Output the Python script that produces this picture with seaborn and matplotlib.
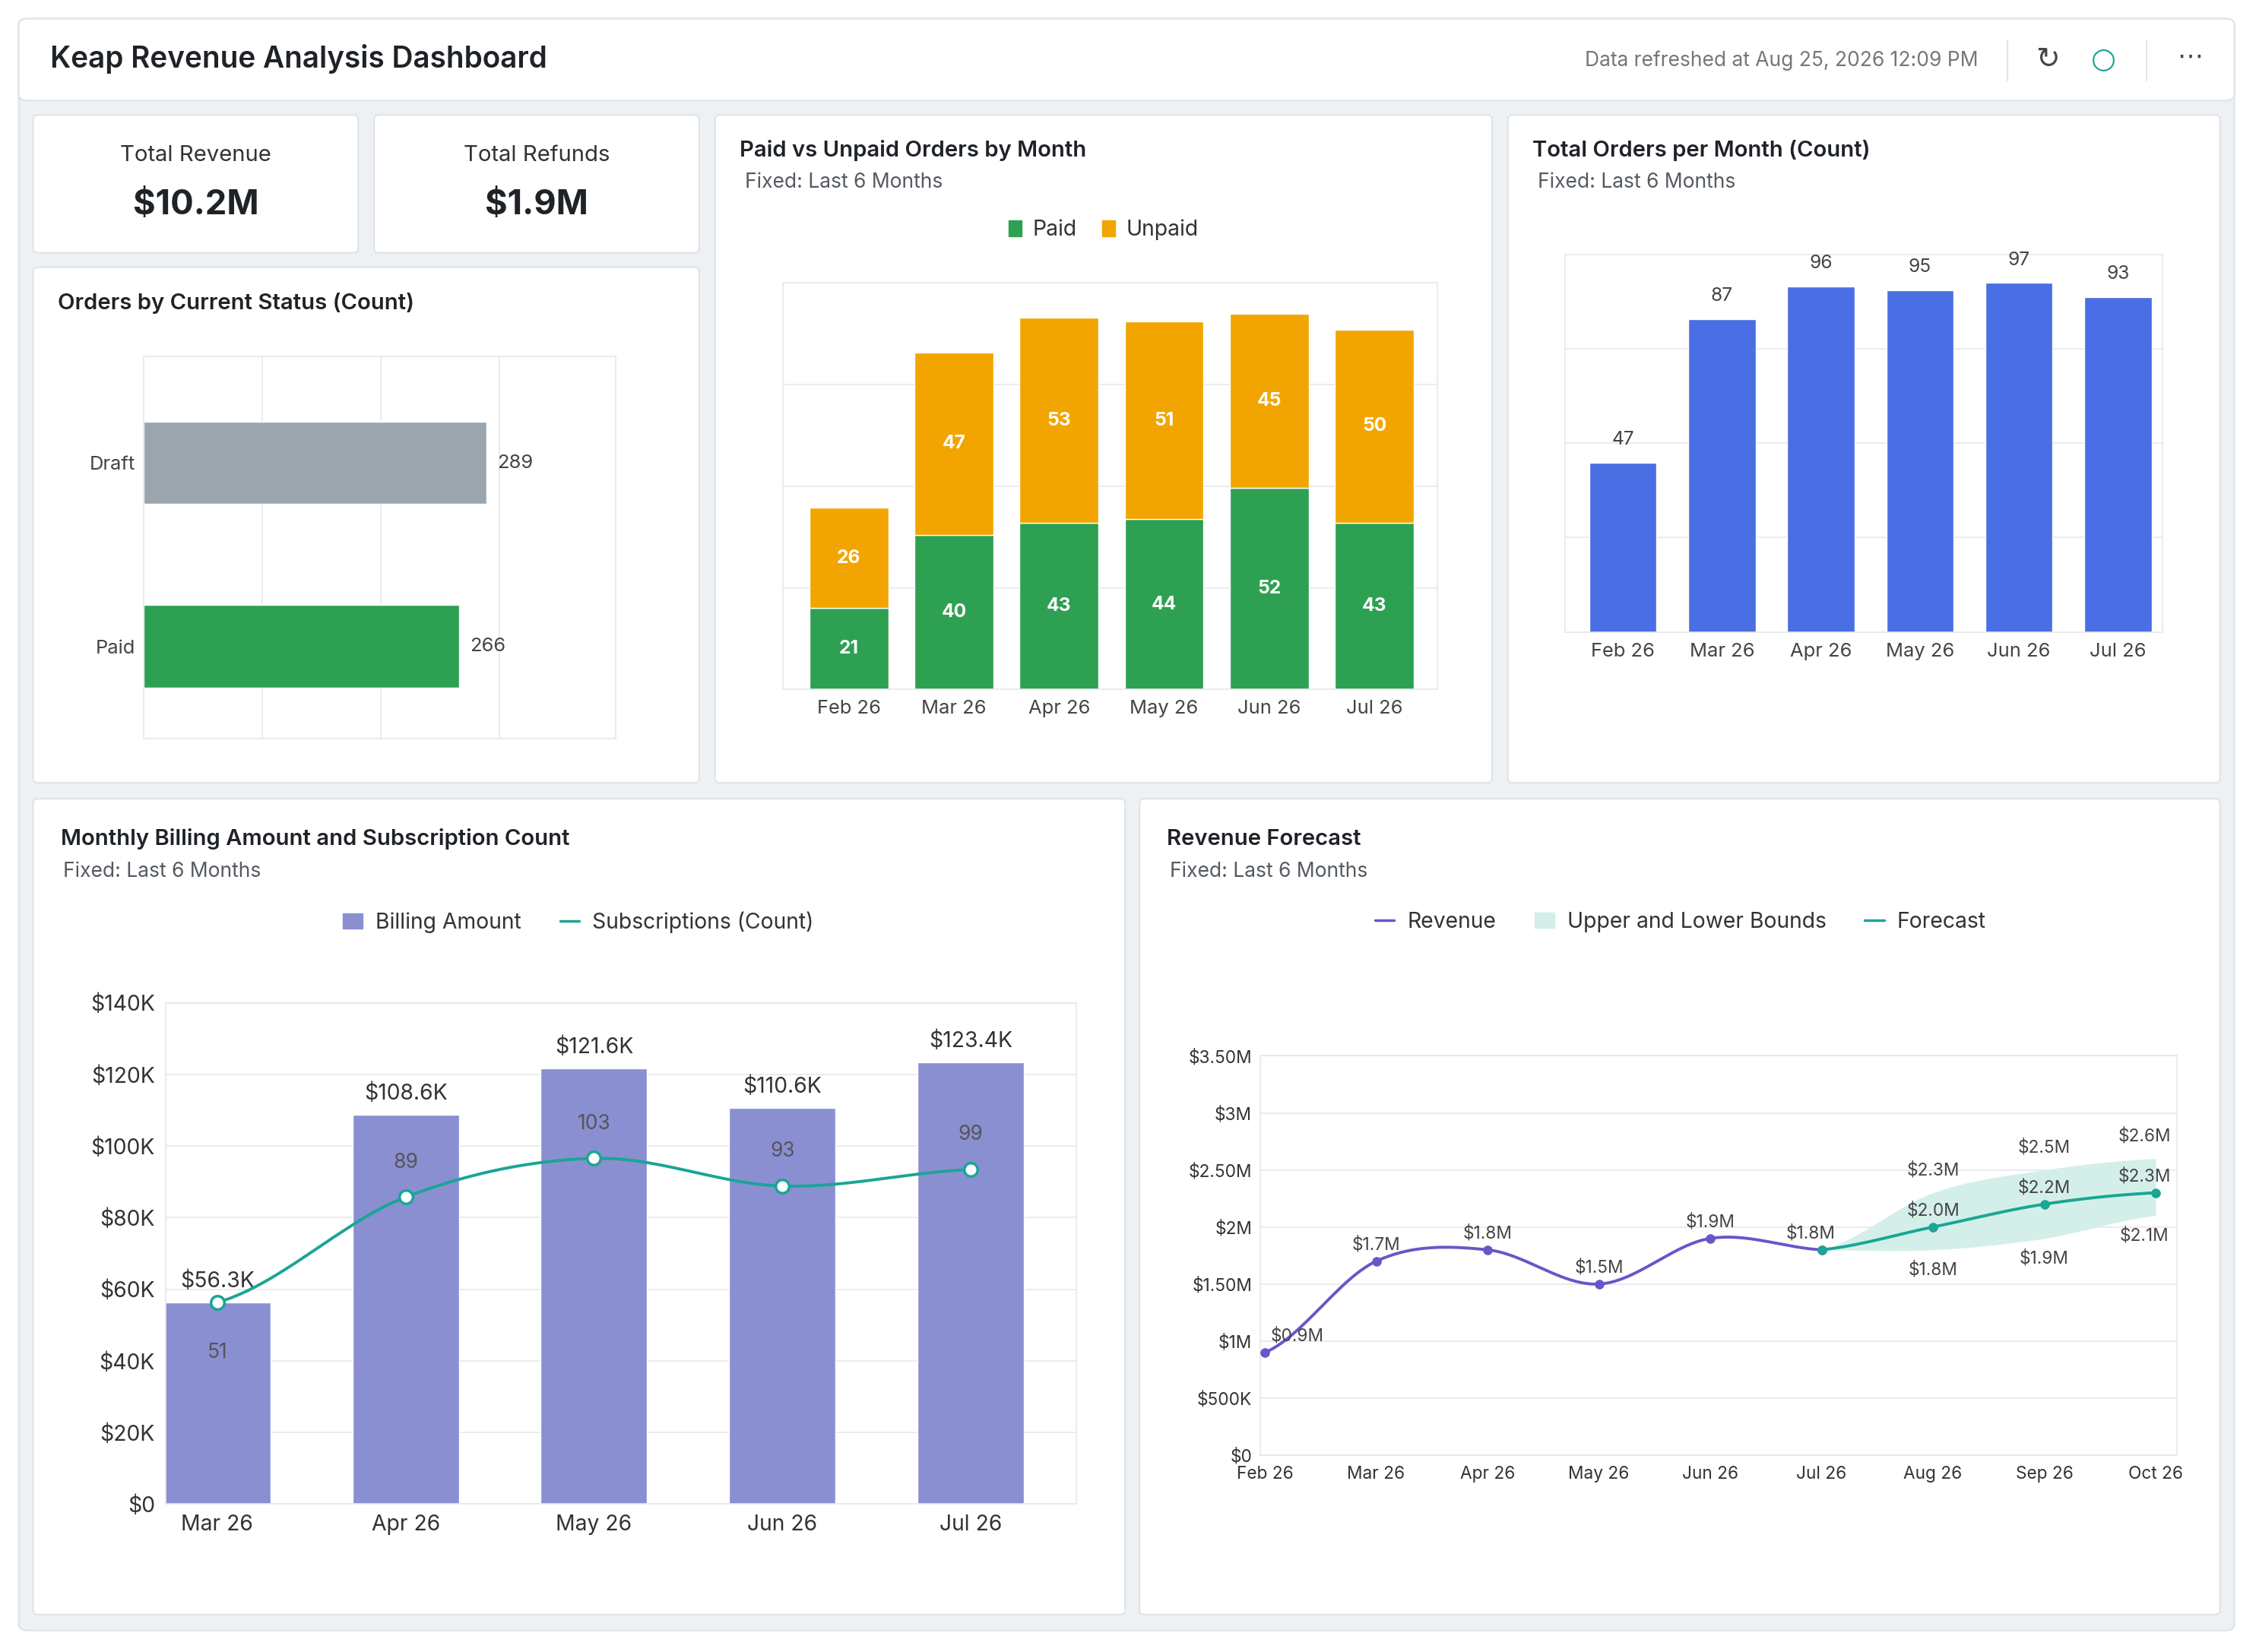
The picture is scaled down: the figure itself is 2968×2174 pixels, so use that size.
import numpy as np
import pandas as pd
import seaborn as sns
import matplotlib.pyplot as plt
from matplotlib.patches import FancyBboxPatch, Patch
from matplotlib.lines import Line2D
from matplotlib.ticker import FuncFormatter

sns.set_theme(style="white")
plt.rcParams['font.family'] = ['Inter', 'DejaVu Sans']

# ---- data ----
status_labels = ["Draft", "Paid"]
status_counts = [289, 266]

months6 = ["Feb 26", "Mar 26", "Apr 26", "May 26", "Jun 26", "Jul 26"]
paid = [21, 40, 43, 44, 52, 43]
unpaid = [26, 47, 53, 51, 45, 50]
total_orders = [47, 87, 96, 95, 97, 93]

bill_months = ["Mar 26", "Apr 26", "May 26", "Jun 26", "Jul 26"]
billing = [56300, 108600, 121600, 110600, 123400]
billing_labels = ["$56.3K", "$108.6K", "$121.6K", "$110.6K", "$123.4K"]
subs = [51, 89, 103, 93, 99]

fc_months = ["Feb 26", "Mar 26", "Apr 26", "May 26", "Jun 26", "Jul 26", "Aug 26", "Sep 26", "Oct 26"]
revenue = [0.9, 1.7, 1.8, 1.5, 1.9, 1.8]
forecast = [1.8, 2.0, 2.2, 2.3]
upper = [1.8, 2.3, 2.5, 2.6]
lower = [1.8, 1.8, 1.9, 2.1]

W, H = 1568.0, 1150.0
K = 1.36  # display px -> pt
fig = plt.figure(figsize=(29.68, 21.74), dpi=100)
fig.patch.set_facecolor("white")

GREEN, ORANGE, BLUE = "#2ea052", "#f2a500", "#4a6ee3"
PURPLE_BAR, TEAL, PURPLE = "#8a8fd2", "#1aa595", "#6a55c8"
TXT, SUB, GRID = "#1f2328", "#555b61", "#e6e8eb"


def R(x0, y0, x1, y1):
    return [x0 / W, 1 - y1 / H, (x1 - x0) / W, (y1 - y0) / H]


def card(x0, y0, x1, y1, fc="white", r=4, z=-5):
    fig.patches.append(FancyBboxPatch((x0 / W, 1 - y1 / H), (x1 - x0) / W, (y1 - y0) / H,
                                      boxstyle=f"round,pad=0,rounding_size={r / W}",
                                      transform=fig.transFigure, fc=fc, ec="#dfe3e7", lw=1.5, zorder=z))


def T(x, y, s, size, **kw):
    kw.setdefault("color", TXT)
    kw.setdefault("va", "center")
    fig.text(x / W, 1 - y / H, s, fontsize=size * K, **kw)


def smooth(xs, ys, n=30):
    # catmull-rom rendering of the line through the data points
    xs, ys = np.asarray(xs, float), np.asarray(ys, float)
    px = np.concatenate([[2 * xs[0] - xs[1]], xs, [2 * xs[-1] - xs[-2]]])
    py = np.concatenate([[ys[0]], ys, [ys[-1]]])
    ox, oy = [], []
    for i in range(1, len(px) - 2):
        t = np.linspace(0, 1, n)
        for arr, out in ((px, ox), (py, oy)):
            p0, p1, p2, p3 = arr[i - 1:i + 3]
            out.extend(0.5 * (2 * p1 + (-p0 + p2) * t + (2 * p0 - 5 * p1 + 4 * p2 - p3) * t ** 2
                              + (-p0 + 3 * p1 - 3 * p2 + p3) * t ** 3))
    return np.array(ox), np.array(oy)


def style(ax, grid_axis="y"):
    for s in ax.spines.values():
        s.set_color(GRID)
    ax.grid(True, axis=grid_axis, color=GRID, lw=1.2)
    ax.set_axisbelow(True)
    ax.tick_params(length=0, colors="#444", labelsize=13.5 * K)
    ax.set_xlabel("")
    ax.set_ylabel("")


# ---- background & header ----
card(13, 13, 1553, 1135, fc="#eef1f4", r=6, z=-10)
card(13, 13, 1553, 70, fc="white", r=6)
T(35, 41, "Keap Revenue Analysis Dashboard", 20.5, weight="semibold")
T(1375, 42, "Data refreshed at Aug 25, 2026 12:09 PM", 14, color="#777", ha="right")
T(1423, 42, "↻", 20, color="#444", ha="center", family="DejaVu Sans")
T(1462, 42, "○", 20, color=TEAL, ha="center", family="DejaVu Sans")
T(1522, 40, "⋯", 18, color="#444", ha="center", family="DejaVu Sans")
for xx in (1395, 1492):
    fig.add_artist(Line2D([xx / W, xx / W], [1 - 28 / H, 1 - 56 / H], color="#e2e5e8", lw=1.5))

# ---- KPI cards ----
card(23, 80, 249, 176)
card(260, 80, 486, 176)
T(136, 108, "Total Revenue", 15.5, ha="center", color="#333")
T(136, 143, "$10.2M", 24, ha="center", weight="bold")
T(373, 108, "Total Refunds", 15.5, ha="center", color="#333")
T(373, 143, "$1.9M", 24, ha="center", weight="bold")

# ---- Orders by status ----
card(23, 186, 486, 545)
T(40, 211, "Orders by Current Status (Count)", 15.5, weight="semibold")
ax = fig.add_axes(R(100, 248, 428, 514))
df = pd.DataFrame({"status": status_labels, "count": status_counts})
sns.barplot(data=df, y="status", x="count", hue="status", palette=["#9aa5ad", GREEN],
            width=0.45, ax=ax, legend=False, saturation=1)
ax.set_xlim(0, 398)
ax.set_ylim(1.5, -0.58)
ax.set_xticks([100, 200, 300])
ax.set_xticklabels([])
style(ax, "x")
ax.tick_params(axis="y", pad=8)
for i, v in enumerate(status_counts):
    ax.text(v + 9, i, str(v), va="center", fontsize=13.5 * K, color="#444")

# ---- Paid vs Unpaid ----
card(497, 80, 1037, 545)
T(514, 105, "Paid vs Unpaid Orders by Month", 15.5, weight="semibold")
T(518, 127, "Fixed: Last 6 Months", 14, color=SUB)
ax = fig.add_axes(R(544, 197, 999, 480))
dfp = pd.DataFrame({"month": months6, "Paid": paid, "Unpaid": unpaid})
sns.barplot(data=dfp, x="month", y="Paid", color=GREEN, width=0.75, ax=ax, saturation=1)
ax.bar(range(6), dfp["Unpaid"], bottom=dfp["Paid"], color=ORANGE, width=0.75)
ax.set_xlim(-0.63, 5.6)
ax.set_ylim(0, 105)
ax.set_yticks([26.25, 52.5, 78.75])
ax.set_yticklabels([])
style(ax)
ax.tick_params(axis="x", pad=10)
for i in range(6):
    ax.text(i, paid[i] / 2, str(paid[i]), ha="center", va="center", color="white", weight="bold", fontsize=13 * K)
    ax.text(i, paid[i] + unpaid[i] / 2, str(unpaid[i]), ha="center", va="center", color="white",
            weight="bold", fontsize=13 * K)
fig.legend([Patch(color=GREEN), Patch(color=ORANGE)], ["Paid", "Unpaid"], loc="center",
           bbox_to_anchor=(767 / W, 1 - 160 / H), ncol=2, frameon=False, fontsize=15 * K,
           handlelength=0.6, handleheight=0.8, columnspacing=1.2, handletextpad=0.5, labelcolor="#333")

# ---- Total orders ----
card(1048, 80, 1543, 545)
T(1065, 105, "Total Orders per Month (Count)", 15.5, weight="semibold")
T(1069, 127, "Fixed: Last 6 Months", 14, color=SUB)
ax = fig.add_axes(R(1088, 177, 1503, 440))
dft = pd.DataFrame({"month": months6, "orders": total_orders})
sns.barplot(data=dft, x="month", y="orders", color=BLUE, width=0.68, ax=ax, saturation=1)
ax.set_xlim(-0.58, 5.45)
ax.set_ylim(0, 105)
ax.set_yticks([26.25, 52.5, 78.75])
ax.set_yticklabels([])
style(ax)
ax.tick_params(axis="x", pad=10)
for i, v in enumerate(total_orders):
    ax.text(i, v + 4, str(v), ha="center", va="bottom", fontsize=13 * K, color="#444")

# ---- Monthly billing ----
card(23, 556, 782, 1124)
T(42, 584, "Monthly Billing Amount and Subscription Count", 15.5, weight="semibold")
T(44, 607, "Fixed: Last 6 Months", 14, color=SUB)
ax = fig.add_axes(R(115, 698, 748, 1047))
dfb = pd.DataFrame({"month": bill_months, "billing": billing, "subs": subs})
sns.barplot(data=dfb, x="month", y="billing", color=PURPLE_BAR, width=0.565, ax=ax, saturation=1)
ax.set_xlim(-0.275, 4.56)
ax.set_ylim(0, 140000)
ax.set_yticks(np.arange(0, 140001, 20000))
ax.yaxis.set_major_formatter(FuncFormatter(lambda v, p: f"${int(v / 1000)}K" if v else "$0"))
style(ax)
ax.tick_params(labelsize=15 * K, colors="#333")
ax.tick_params(axis="x", pad=10)
ax.tick_params(axis="y", pad=10)
for i, v in enumerate(billing):
    ax.text(i, v + 3000, billing_labels[i], ha="center", va="bottom", fontsize=15 * K, color="#333")
ax2 = ax.twinx()
sx, sy = smooth(range(5), subs)
ax2.plot(sx, sy, color=TEAL, lw=2.8)
sns.scatterplot(x=range(5), y=subs, ax=ax2, s=160, color="white", edgecolor=TEAL, linewidth=2.5, zorder=5)
ax2.set_ylim(-21.8, 159.2)
ax2.axis("off")
for i, v in enumerate(subs):
    dy = -18 if i == 0 else 9
    ax2.text(i, v + dy, str(v), ha="center", va="bottom" if dy > 0 else "center", fontsize=14 * K, color="#555")
fig.legend([Patch(color=PURPLE_BAR), Line2D([], [], color=TEAL, lw=2.5)], ["Billing Amount", "Subscriptions (Count)"],
           loc="center", bbox_to_anchor=(402 / W, 1 - 642 / H), ncol=2, frameon=False, fontsize=15 * K,
           handlelength=0.9, columnspacing=1.8, handletextpad=0.6, labelcolor="#333")

# ---- Revenue forecast ----
card(792, 556, 1543, 1124)
T(811, 584, "Revenue Forecast", 15.5, weight="semibold")
T(813, 607, "Fixed: Last 6 Months", 14, color=SUB)
ax = fig.add_axes(R(876, 735, 1513, 1013))
fx = np.arange(5, 9)
ux, uy = smooth(fx, upper)
lx, ly = smooth(fx, lower)
ax.fill_between(ux, ly, uy, color="#d4efe9", lw=0)
rx, ry = smooth(range(6), revenue)
ax.plot(rx, ry, color=PURPLE, lw=2.8)
sns.scatterplot(x=range(6), y=revenue, ax=ax, s=70, color=PURPLE, edgecolor=PURPLE, zorder=5)
gx, gy = smooth(fx, forecast)
ax.plot(gx, gy, color=TEAL, lw=2.8)
sns.scatterplot(x=fx, y=forecast, ax=ax, s=70, color=TEAL, edgecolor=TEAL, zorder=6)
ax.set_xlim(-0.04, 8.19)
ax.set_ylim(0, 3.5)
ax.set_xticks(range(9))
ax.set_xticklabels(fc_months)
ax.set_yticks(np.arange(0, 3.51, 0.5))
ylabs = ["$0", "$500K", "$1M", "$1.50M", "$2M", "$2.50M", "$3M", "$3.50M"]
ax.set_yticklabels(ylabs)
style(ax)
ax.tick_params(labelsize=12 * K, colors="#333")
ax.tick_params(axis="x", pad=10)
ax.tick_params(axis="y", pad=8)
for i, v in enumerate(revenue):
    if i == 0:
        ax.text(0.05, v + 0.07, f"${v:.1f}M", ha="left", va="bottom", fontsize=12 * K, color="#444")
    elif i == 5:
        ax.text(i - 0.1, v + 0.07, f"${v:.1f}M", ha="center", va="bottom", fontsize=12 * K, color="#444")
    else:
        ax.text(i, v + 0.07, f"${v:.1f}M", ha="center", va="bottom", fontsize=12 * K, color="#444")
for j in range(1, 4):
    i = fx[j]
    off = -0.1 if j == 3 else 0
    ax.text(i + off, forecast[j] + 0.07, f"${forecast[j]:.1f}M", ha="center", va="bottom", fontsize=12 * K, color="#444")
    ax.text(i + off, upper[j] + 0.12, f"${upper[j]:.1f}M", ha="center", va="bottom", fontsize=12 * K, color="#444")
    ax.text(i + off, lower[j] - 0.1, f"${lower[j]:.1f}M", ha="center", va="top", fontsize=12 * K, color="#444")
fig.legend([Line2D([], [], color=PURPLE, lw=2.5), Patch(color="#d4efe9"), Line2D([], [], color=TEAL, lw=2.5)],
           ["Revenue", "Upper and Lower Bounds", "Forecast"], loc="center",
           bbox_to_anchor=(1168 / W, 1 - 642 / H), ncol=3, frameon=False, fontsize=15 * K,
           handlelength=0.9, columnspacing=1.8, handletextpad=0.6, labelcolor="#333")

fig.savefig("out.png", dpi=100, facecolor="white")
